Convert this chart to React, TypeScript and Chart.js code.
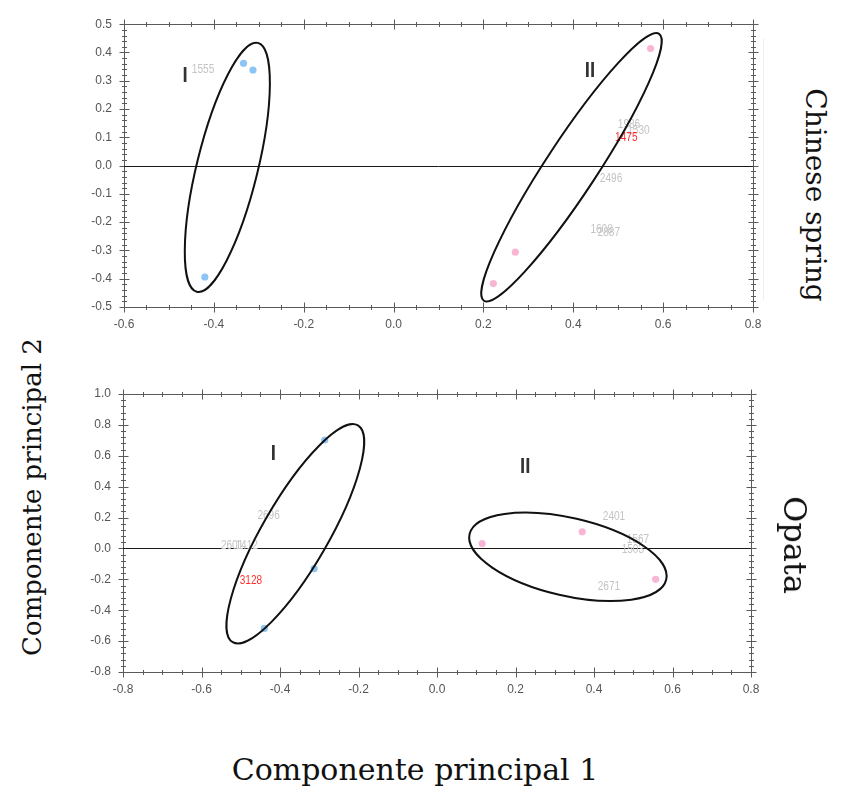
import React, { useEffect, useRef } from "react";
import { Chart, registerables } from "chart.js";

Chart.register(...registerables);

// ---------------- Panel 1: Chinese spring ----------------
const csXRange = [-0.6, 0.8];
const csYRange = [-0.5, 0.5];
const csGroupIX = [-0.334, -0.313, -0.42];
const csGroupIY = [0.362, 0.338, -0.394];
const csGroupIIX = [0.572, 0.271, 0.222];
const csGroupIIY = [0.414, -0.306, -0.417];
const csLabelText = ["1555", "1986", "1530", "2496", "1608", "2887", "1475"];
const csLabelX = [-0.424, 0.524, 0.545, 0.484, 0.463, 0.479, 0.518];
const csLabelY = [0.34, 0.144, 0.123, -0.048, -0.225, -0.238, 0.1];
const csHighlight = "1475";
const csGroupName = ["I", "II"];
const csGroupNameX = [-0.464, 0.437];
const csGroupNameY = [0.318, 0.335];
const csEllipseCX = [-0.37, 0.396];
const csEllipseCY = [-0.006, -0.006];
const csEllipseEndX = [-0.302, 0.591];
const csEllipseEndY = [0.434, 0.466];
const csEllipseRatio = [0.238, 0.161];

// ---------------- Panel 2: Opata ----------------
const opXRange = [-0.8, 0.8];
const opYRange = [-0.8, 1.0];
const opGroupIX = [-0.286, -0.313, -0.44];
const opGroupIY = [0.702, -0.131, -0.518];
const opGroupIIX = [0.115, 0.37, 0.557];
const opGroupIIY = [0.032, 0.108, -0.2];
const opLabelText = ["2696", "2601", "1412", "2401", "1567", "1503", "2671", "3128"];
const opLabelX = [-0.429, -0.522, -0.485, 0.451, 0.512, 0.499, 0.438, -0.474];
const opLabelY = [0.212, 0.017, 0.017, 0.205, 0.054, -0.006, -0.247, -0.211];
const opHighlight = "3128";
const opGroupName = ["I", "II"];
const opGroupNameX = [-0.417, 0.225];
const opGroupNameY = [0.611, 0.525];
const opEllipseCX = [-0.361, 0.3335];
const opEllipseCY = [0.095, -0.054];
const opEllipseEndX = [-0.2015, 0.584];
const opEllipseEndY = [0.797, -0.201];
const opEllipseRatio = [0.264, 0.386];

const NARROW = "'Liberation Sans Narrow', 'Arial Narrow', 'Liberation Sans', Arial, sans-serif";
const SERIF = "'DejaVu Serif', 'Liberation Serif', serif";
const BLUE = "#8cc4f4";
const PINK = "#f8b6d4";

type Panel = {
  xr: number[]; yr: number[];
  xMajor: number; xMinor: number; yMajor: number; yMinor: number;
  gIX: number[]; gIY: number[]; gIIX: number[]; gIIY: number[];
  lt: string[]; lx: number[]; ly: number[]; hi: string;
  gn: string[]; gnx: number[]; gny: number[];
  ecx: number[]; ecy: number[]; eex: number[]; eey: number[]; er: number[];
};

type Box = { padL: number; padR: number; padT: number; padB: number; yW: number; xH: number };

function fmt(v: number) {
  const n = Math.abs(v) < 1e-9 ? 0 : v;
  return n.toFixed(1);
}

function narrowText(ctx: CanvasRenderingContext2D, t: string, px: number, py: number, sx: number) {
  ctx.save();
  ctx.translate(px, py);
  ctx.scale(sx, 1);
  ctx.fillText(t, 0, 0);
  ctx.restore();
}

function makeChart(canvas: HTMLCanvasElement, p: Panel, box: Box) {
  const decor = {
    id: "panelDecor",
    beforeDatasetsDraw(chart: any) {
      const { ctx, chartArea: a } = chart;
      const x = chart.scales.x;
      const y = chart.scales.y;
      ctx.save();
      // frame
      ctx.strokeStyle = "#5a5a5a";
      ctx.lineWidth = 1;
      const L = Math.round(a.left) + 0.5, R = Math.round(a.right) + 0.5;
      const T = Math.round(a.top) + 0.5, B = Math.round(a.bottom) + 0.5;
      ctx.beginPath();
      ctx.moveTo(L, T); ctx.lineTo(R, T); ctx.lineTo(R, B); ctx.lineTo(L, B); ctx.closePath();
      ctx.stroke();
      // ticks on all four sides
      const nx = Math.round((p.xr[1] - p.xr[0]) / p.xMinor);
      const perX = Math.round(p.xMajor / p.xMinor);
      ctx.beginPath();
      for (let i = 0; i <= nx; i++) {
        const px = Math.round(x.getPixelForValue(p.xr[0] + i * p.xMinor)) + 0.5;
        const len = i % perX === 0 ? 5 : 2.5;
        ctx.moveTo(px, B - len); ctx.lineTo(px, B + len);
        ctx.moveTo(px, T - len); ctx.lineTo(px, T + len);
      }
      const ny = Math.round((p.yr[1] - p.yr[0]) / p.yMinor);
      const perY = Math.round(p.yMajor / p.yMinor);
      for (let i = 0; i <= ny; i++) {
        const py = Math.round(y.getPixelForValue(p.yr[0] + i * p.yMinor)) + 0.5;
        const len = i % perY === 0 ? 5 : 2.5;
        ctx.moveTo(L - len, py); ctx.lineTo(L + len, py);
        ctx.moveTo(R - len, py); ctx.lineTo(R + len, py);
      }
      ctx.stroke();
      // zero line
      const y0 = Math.round(y.getPixelForValue(0)) + 0.5;
      ctx.strokeStyle = "#1a1a1a";
      ctx.beginPath();
      ctx.moveTo(a.left, y0); ctx.lineTo(a.right, y0);
      ctx.stroke();
      // point labels
      ctx.textAlign = "center";
      ctx.textBaseline = "middle";
      ctx.font = `12px ${NARROW}`;
      p.lt.forEach((t, i) => {
        ctx.fillStyle = t === p.hi ? "#ff3030" : "#c4c4c4";
        narrowText(ctx, t, x.getPixelForValue(p.lx[i]), y.getPixelForValue(p.ly[i]), 0.84);
      });
      ctx.restore();
    },
    afterDatasetsDraw(chart: any) {
      const { ctx } = chart;
      const x = chart.scales.x;
      const y = chart.scales.y;
      ctx.save();
      ctx.strokeStyle = "#111";
      ctx.lineWidth = 2;
      p.ecx.forEach((cxv, i) => {
        const cx = x.getPixelForValue(cxv);
        const cy = y.getPixelForValue(p.ecy[i]);
        const ex = x.getPixelForValue(p.eex[i]);
        const ey = y.getPixelForValue(p.eey[i]);
        const rx = Math.hypot(ex - cx, ey - cy);
        const rot = Math.atan2(ey - cy, ex - cx);
        ctx.beginPath();
        ctx.ellipse(cx, cy, rx, rx * p.er[i], rot, 0, Math.PI * 2);
        ctx.stroke();
      });
      ctx.fillStyle = "#333";
      ctx.font = `bold 22px ${NARROW}`;
      ctx.textAlign = "center";
      ctx.textBaseline = "middle";
      p.gn.forEach((t, i) => {
        narrowText(ctx, t, x.getPixelForValue(p.gnx[i]), y.getPixelForValue(p.gny[i]), 0.85);
      });
      ctx.restore();
    },
  };

  const toPts = (xs: number[], ys: number[]) => xs.map((v, i) => ({ x: v, y: ys[i] }));

  return new Chart(canvas, {
    type: "scatter",
    data: {
      datasets: [
        { data: toPts(p.gIX, p.gIY), backgroundColor: BLUE, borderWidth: 0, pointRadius: 3.6 },
        { data: toPts(p.gIIX, p.gIIY), backgroundColor: PINK, borderWidth: 0, pointRadius: 3.6 },
      ],
    },
    options: {
      animation: false,
      responsive: false,
      maintainAspectRatio: false,
      layout: { padding: { left: box.padL, right: box.padR, top: box.padT, bottom: box.padB } },
      plugins: { legend: { display: false }, tooltip: { enabled: false } },
      scales: {
        x: {
          type: "linear",
          min: p.xr[0],
          max: p.xr[1],
          grid: { display: false, drawTicks: false },
          border: { display: false },
          ticks: {
            stepSize: p.xMajor,
            padding: 10,
            color: "#555",
            font: { family: NARROW, size: 12 },
            callback: (v: any) => fmt(Number(v)),
          },
          afterFit: (s: any) => { s.height = box.xH; },
        },
        y: {
          type: "linear",
          min: p.yr[0],
          max: p.yr[1],
          grid: { display: false, drawTicks: false },
          border: { display: false },
          ticks: {
            stepSize: p.yMajor,
            padding: 12,
            color: "#555",
            font: { family: NARROW, size: 12 },
            callback: (v: any) => fmt(Number(v)),
          },
          afterFit: (s: any) => { s.width = box.yW; },
        },
      },
    },
    plugins: [decor],
  } as any);
}

const panelCS: Panel = {
  xr: csXRange, yr: csYRange, xMajor: 0.2, xMinor: 0.05, yMajor: 0.1, yMinor: 0.02,
  gIX: csGroupIX, gIY: csGroupIY, gIIX: csGroupIIX, gIIY: csGroupIIY,
  lt: csLabelText, lx: csLabelX, ly: csLabelY, hi: csHighlight,
  gn: csGroupName, gnx: csGroupNameX, gny: csGroupNameY,
  ecx: csEllipseCX, ecy: csEllipseCY, eex: csEllipseEndX, eey: csEllipseEndY, er: csEllipseRatio,
};

const panelOP: Panel = {
  xr: opXRange, yr: opYRange, xMajor: 0.2, xMinor: 0.05, yMajor: 0.2, yMinor: 0.04,
  gIX: opGroupIX, gIY: opGroupIY, gIIX: opGroupIIX, gIIY: opGroupIIY,
  lt: opLabelText, lx: opLabelX, ly: opLabelY, hi: opHighlight,
  gn: opGroupName, gnx: opGroupNameX, gny: opGroupNameY,
  ecx: opEllipseCX, ecy: opEllipseCY, eex: opEllipseEndX, eey: opEllipseEndY, er: opEllipseRatio,
};

export default function App() {
  const topRef = useRef<HTMLCanvasElement>(null);
  const botRef = useRef<HTMLCanvasElement>(null);

  useEffect(() => {
    const c1 = makeChart(topRef.current!, panelCS, { padL: 12, padR: 27, padT: 18, padB: 8, yW: 52, xH: 30 });
    const c2 = makeChart(botRef.current!, panelOP, { padL: 11, padR: 29, padT: 21, padB: 11, yW: 52, xH: 30 });
    return () => {
      c1.destroy();
      c2.destroy();
    };
  }, []);

  const rot = (deg: number): React.CSSProperties => ({
    position: "absolute",
    transform: `translate(-50%, -50%) rotate(${deg}deg)`,
    whiteSpace: "nowrap",
    fontFamily: SERIF,
    color: "#111",
    lineHeight: 1,
  });

  return (
    <div style={{ position: "absolute", left: 0, top: 0, width: 843, height: 790, background: "#fff", overflow: "hidden" }}>
      <canvas ref={topRef} width={720} height={340} style={{ position: "absolute", left: 60, top: 5, width: 720, height: 340 }} />
      <canvas ref={botRef} width={720} height={340} style={{ position: "absolute", left: 60, top: 373, width: 720, height: 340 }} />
      <div style={{ position: "absolute", left: 763, top: 38, width: 1, height: 262, background: "#eeeeee" }} />
      <div style={{ ...rot(-90), left: 32, top: 497, fontSize: 26 }}>Componente principal 2</div>
      <div style={{ ...rot(0), left: 415, top: 770, fontSize: 30 }}>Componente principal 1</div>
      <div style={{ ...rot(90), left: 815, top: 195, fontSize: 28 }}>Chinese spring</div>
      <div style={{ ...rot(90), left: 795, top: 545, fontSize: 32 }}>Opata</div>
    </div>
  );
}
